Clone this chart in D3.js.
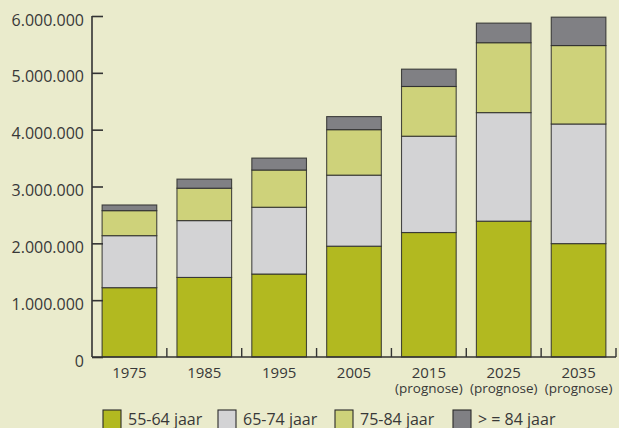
<!DOCTYPE html>
<html lang="nl">
<head>
<meta charset="utf-8">
<title>Ouderen per leeftijdsgroep</title>
<script src="https://cdn.jsdelivr.net/npm/d3@7"></script>
<style>
  html, body { margin: 0; padding: 0; background: #eaebcc; }
  svg { display: block; font-family: "Open Sans", sans-serif; }
  .axis path, .axis line { stroke: #333; }
  text { fill: #383838; }
</style>
</head>
<body>
<script>
// jaren en subtitels
var years = ["1975", "1985", "1995", "2005", "2015", "2025", "2035"];
var subLabels = ["", "", "", "", "(prognose)", "(prognose)", "(prognose)"];

// leeftijdsgroepen (legenda)
var groups = ["55-64 jaar", "65-74 jaar", "75-84 jaar", "> = 84 jaar"];
var colors = ["#b2b920", "#d3d3d5", "#ced27a", "#808084"];

var age55_64 = [1220000, 1400000, 1460000, 1950000, 2190000, 2390000, 1995000];
var age65_74 = [915000, 1000000, 1175000, 1250000, 1695000, 1910000, 2105000];
var age75_84 = [440000, 570000, 655000, 800000, 875000, 1230000, 1380000];
var age85up  = [100000, 160000, 210000, 230000, 305000, 345000, 500000];

var yTicks = [0, 1000000, 2000000, 3000000, 4000000, 5000000, 6000000];

var w = 619, h = 428;
var padL = 92, padR = 616, padT = 16, padB = 357;

var series = [age55_64, age65_74, age75_84, age85up];
var table = years.map(function(y, i) {
  var row = { year: y };
  groups.forEach(function(g, k) { row[g] = series[k][i]; });
  return row;
});
var stacked = d3.stack().keys(groups)(table);

var svg = d3.select("body").append("svg")
  .attr("width", w)
  .attr("height", h);

var x = d3.scaleBand()
  .domain(years)
  .range([padL, padR])
  .paddingInner(0.27)
  .paddingOuter(0.135);

var y = d3.scaleLinear()
  .domain([0, 6000000])
  .range([padB, padT]);

var fmt = function(v) { return d3.format(",")(v).replace(/,/g, "."); };

// staven
svg.append("g")
  .selectAll("g")
  .data(stacked)
  .enter()
  .append("g")
  .attr("fill", function(d, i) { return colors[i]; })
  .selectAll("rect")
  .data(function(d) { return d; })
  .enter()
  .append("rect")
  .attr("x", function(d) { return x(d.data.year); })
  .attr("y", function(d) { return y(d[1]); })
  .attr("width", x.bandwidth())
  .attr("height", function(d) { return y(d[0]) - y(d[1]); })
  .attr("stroke", "#2a2a2a")
  .attr("stroke-opacity", 0.85)
  .attr("stroke-width", 1.1);

// y-as, ticks naar binnen
var yAxis = d3.axisRight(y)
  .tickValues(yTicks)
  .tickSize(11)
  .tickFormat("");
svg.append("g")
  .attr("class", "axis")
  .attr("transform", "translate(" + padL + ",0)")
  .call(yAxis)
  .call(function(g) { g.select(".domain").attr("d", "M0," + padT + "V" + padB).attr("stroke-width", 1.6); })
  .selectAll("line").attr("stroke-width", 1.6);

svg.append("g")
  .selectAll("text")
  .data(yTicks)
  .enter()
  .append("text")
  .attr("x", padL - 8)
  .attr("y", function(d) { return y(d) + 9.5; })
  .attr("text-anchor", "end")
  .style("font-size", "16px")
  .text(fmt);

// x-as met streepjes tussen de staven
var step = x.step();
var boundaries = years.map(function(d) { return x(d) + x.bandwidth() + step * 0.135; });
svg.append("line")
  .attr("x1", padL).attr("x2", padR)
  .attr("y1", padB).attr("y2", padB)
  .attr("stroke", "#333").attr("stroke-width", 1.6);
svg.selectAll(".xtick")
  .data(boundaries)
  .enter()
  .append("line")
  .attr("class", "xtick")
  .attr("x1", function(d) { return Math.min(d, padR); })
  .attr("x2", function(d) { return Math.min(d, padR); })
  .attr("y1", padB)
  .attr("y2", padB - 9)
  .attr("stroke", "#333")
  .attr("stroke-width", 1.4);

// x-labels
svg.append("g")
  .selectAll("text")
  .data(years)
  .enter()
  .append("text")
  .attr("x", function(d) { return x(d) + x.bandwidth() / 2; })
  .attr("y", 378)
  .attr("text-anchor", "middle")
  .style("font-size", "15px")
  .text(function(d) { return d; });

svg.append("g")
  .selectAll("text")
  .data(subLabels)
  .enter()
  .append("text")
  .attr("x", function(d, i) { return x(years[i]) + x.bandwidth() / 2; })
  .attr("y", 393)
  .attr("text-anchor", "middle")
  .style("font-size", "13.5px")
  .text(function(d) { return d; });

// legenda
var legendX = [103, 218, 335, 453];
var legend = svg.append("g")
  .selectAll("g")
  .data(groups)
  .enter()
  .append("g")
  .attr("transform", function(d, i) { return "translate(" + legendX[i] + ",410)"; });

legend.append("rect")
  .attr("width", 18)
  .attr("height", 20)
  .attr("fill", function(d, i) { return colors[i]; })
  .attr("stroke", "#2a2a2a")
  .attr("stroke-width", 1.1);

legend.append("text")
  .attr("x", 25)
  .attr("y", 15)
  .style("font-size", "16px")
  .text(function(d) { return d; });
</script>
</body>
</html>
